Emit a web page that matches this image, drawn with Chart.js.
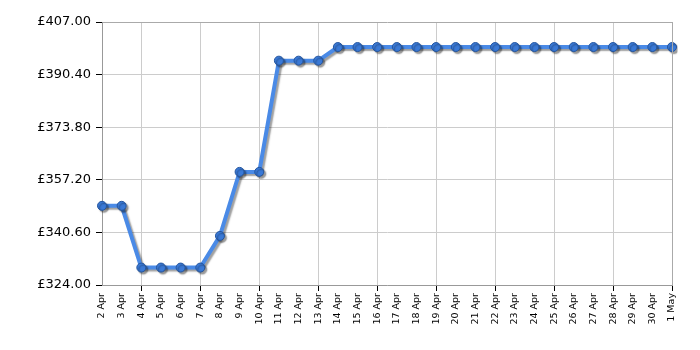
<!DOCTYPE html>
<html><head><meta charset="utf-8">
<script src="https://cdn.jsdelivr.net/npm/chart.js@4"></script>
<style>html,body{margin:0;padding:0;background:#fff}#wrap{width:700px;height:350px}</style>
</head><body><div id="wrap"><canvas id="c" width="700" height="350"></canvas></div>
<script>
const categories = ["2 Apr","3 Apr","4 Apr","5 Apr","6 Apr","7 Apr","8 Apr","9 Apr","10 Apr","11 Apr","12 Apr","13 Apr","14 Apr","15 Apr","16 Apr","17 Apr","18 Apr","19 Apr","20 Apr","21 Apr","22 Apr","23 Apr","24 Apr","25 Apr","26 Apr","27 Apr","28 Apr","29 Apr","30 Apr","1 May"];
const prices = [348.99,348.99,329.5,329.5,329.5,329.5,339.5,359.7,359.7,394.8,394.8,394.8,399.1,399.1,399.1,399.1,399.1,399.1,399.1,399.1,399.1,399.1,399.1,399.1,399.1,399.1,399.1,399.1,399.1,399.1];
const yTicks = [324.00,340.60,357.20,373.80,390.40,407.00];

const shadowPlugin = {
  id:'shadow',
  beforeDatasetDraw(chart){ const c=chart.ctx; c.save(); c.shadowColor='rgba(0,0,0,0.38)'; c.shadowOffsetX=2; c.shadowOffsetY=2; c.shadowBlur=1.5; },
  afterDatasetDraw(chart){ chart.ctx.restore(); }
};
const gridOn = (i) => (i - 2) % 3 === 0 && i >= 2;

new Chart(document.getElementById('c'), {
  type:'line',
  data:{ labels:categories, datasets:[{ data:prices, borderColor:'#4a8ae6', borderWidth:4, tension:0,
    pointRadius:4.5, pointBackgroundColor:'#3a79d6', pointBorderColor:'#24559e', pointBorderWidth:1, pointHoverRadius:4.5 }]},
  options:{ responsive:false, animation:false, devicePixelRatio:1,
    layout:{ padding:{ top:22, right:28, left:0, bottom:0 } },
    plugins:{ legend:{display:false}, tooltip:{enabled:false} },
    scales:{
      x:{ offset:false,
        afterFit(s){ s.height = 65; },
        border:{ color:'#999', width:1 },
        grid:{ color:(ctx)=> gridOn(ctx.index) ? '#cccccc' : 'rgba(0,0,0,0)', tickColor:(ctx)=> gridOn(ctx.index) ? '#000' : 'rgba(0,0,0,0)', tickLength:6, drawOnChartArea:true },
        ticks:{ autoSkip:false, maxRotation:90, minRotation:90, color:'#000', font:{ family:'DejaVu Sans', size:9.5 }, padding:2 }
      },
      y:{ min:324, max:407,
        afterFit(s){ s.width = 102; },
        afterBuildTicks(s){ s.ticks = yTicks.map(v=>({value:v})); },
        border:{ color:'#999', width:1 },
        grid:{ color:(ctx)=> ctx.index === yTicks.length-1 ? '#aaaaaa' : '#cccccc', tickColor:'#000', tickLength:6 },
        ticks:{ color:'#000', font:{ family:'DejaVu Sans', size:13 }, padding:5, callback:(v)=> '£' + Number(v).toFixed(2) }
      }
    }
  },
  plugins:[shadowPlugin, { id:'rightBorder', afterDraw(chart){ const a=chart.chartArea, c=chart.ctx; c.save(); c.strokeStyle='#aaa'; c.lineWidth=1; c.beginPath(); c.moveTo(Math.round(a.right)+0.5, a.top); c.lineTo(Math.round(a.right)+0.5, a.bottom); c.stroke(); c.restore(); } }]
});
</script></body></html>
